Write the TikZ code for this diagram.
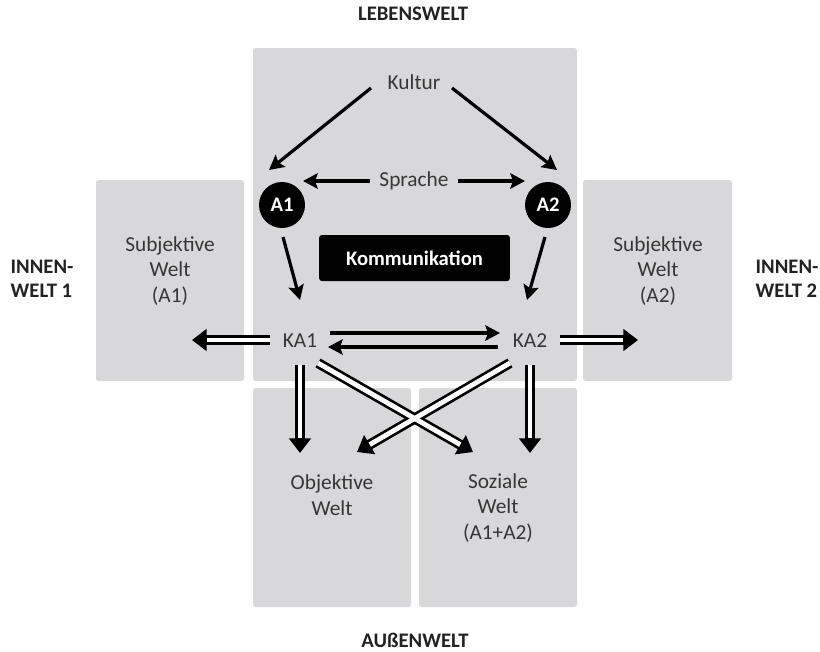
\documentclass[tikz,border=0pt]{standalone}
\usepackage{fontspec}
\setmainfont{Carlito}
\usetikzlibrary{arrows.meta}
\definecolor{panelgray}{HTML}{D8D8DA}
\definecolor{ink}{HTML}{363636}
\definecolor{headink}{HTML}{222222}
% outer (black) and inner (white) layers of a hollow double arrow
\newcommand\dblarrow[2]{%
  \draw[dblout] #1 -- #2;
  \draw[dblin] #1 -- #2;}
\begin{document}
\begin{tikzpicture}[x=0.75pt,y=-0.75pt,
  panel/.style={fill=panelgray, rounded corners=2pt},
  lbl/.style={font=\fontsize{16}{19}\selectfont, text=ink, align=center},
  headlbl/.style={font=\fontsize{15.5}{18}\selectfont\bfseries, text=headink},
  actor/.style={circle, fill=black, minimum size=34.5pt, inner sep=0pt,
    text=white, font=\fontsize{15.5}{18}\selectfont\bfseries},
  commbox/.style={fill=black, rounded corners=2pt, minimum width=143pt,
    minimum height=34.5pt, text=white, font=\fontsize{15.5}{18}\selectfont\bfseries},
  arr/.style={line width=2.4pt, -{Stealth[length=11pt,width=11.5pt,inset=2pt]}},
  dblout/.style={line width=7.6pt, -{Triangle[length=11pt,width=16pt]}},
  dblin/.style={white, line width=3.6pt, shorten >=11pt}]
\useasboundingbox (0,0) rectangle (820,651);

% world panels
\fill[panel] (253,48) rectangle (577,381);
\fill[panel] (96,180) rectangle (244,381);
\fill[panel] (583,180) rectangle (732,381);
\fill[panel] (253,388) rectangle (411,607);
\fill[panel] (419,388) rectangle (577,607);

% headings
\node[headlbl] (lebenswelt) at (413,14) {LEBENSWELT};
\node[headlbl, inner sep=1pt] (aussenwelt) at (415,640) {AUßENWELT};
\node[headlbl, align=left, anchor=west] (innen1) at (6,279) {INNEN-\\WELT 1};
\node[headlbl, align=left, anchor=west] (innen2) at (751,279) {INNEN-\\WELT 2};

% labels
\node[lbl] (kultur) at (414,82) {Kultur};
\node[lbl] (sprache) at (414,181) {Sprache};
\node[actor] (a1) at (282,205) {A1};
\node[actor] (a2) at (548,205) {A2};
\node[commbox] (komm) at (414.5,258) {Kommunikation};
\node[lbl] (ka1) at (300,341) {KA1};
\node[lbl] (ka2) at (530,341) {KA2};
\node[lbl] (subj1) at (170,271) {Subjektive\\Welt\\(A1)};
\node[lbl] (subj2) at (658,271) {Subjektive\\Welt\\(A2)};
\node[lbl] (obj) at (332,495) {Objektive\\Welt};
\node[lbl] (soz) at (498,508) {Soziale\\Welt\\(A1+A2)};

% culture and language reach both actors
\draw[arr] ([shift={(-43,6)}]kultur.center) -- ([shift={(-13,-35)}]a1.center);
\draw[arr] ([shift={(38,6)}]kultur.center) -- ([shift={(9,-35)}]a2.center);
\draw[arr] ([shift={(-44,0)}]sprache.center) -- ([shift={(21,-24)}]a1.center);
\draw[arr] ([shift={(44,0)}]sprache.center) -- ([shift={(-23,-24)}]a2.center);

% actors perform communicative acts
\draw[arr] ([shift={(1,32)}]a1.center) -- ([shift={(0,-41)}]ka1.center);
\draw[arr] ([shift={(-3,32)}]a2.center) -- ([shift={(-3,-41)}]ka2.center);
\draw[arr] ([shift={(30,-8)}]ka1.center) -- ([shift={(-30,-8)}]ka2.center);
\draw[arr] ([shift={(-32,6)}]ka2.center) -- ([shift={(28,6)}]ka1.center);

% references to the worlds
\dblarrow{([shift={(-30,-1)}]ka1.center)}{([shift={(22,69)}]subj1.center)}
\dblarrow{([shift={(30,-1)}]ka2.center)}{([shift={(-20,69)}]subj2.center)}
\dblarrow{([shift={(0,24)}]ka1.center)}{([shift={(-32,-42)}]obj.center)}
\dblarrow{([shift={(0,24)}]ka2.center)}{([shift={(32,-55)}]soz.center)}
\draw[dblout] ([shift={(18,22)}]ka1.center) -- ([shift={(-25,-56)}]soz.center);
\draw[dblout] ([shift={(-20,22)}]ka2.center) -- ([shift={(25,-43)}]obj.center);
\draw[dblin] ([shift={(18,22)}]ka1.center) -- ([shift={(-25,-56)}]soz.center);
\draw[dblin] ([shift={(-20,22)}]ka2.center) -- ([shift={(25,-43)}]obj.center);
\end{tikzpicture}
\end{document}
